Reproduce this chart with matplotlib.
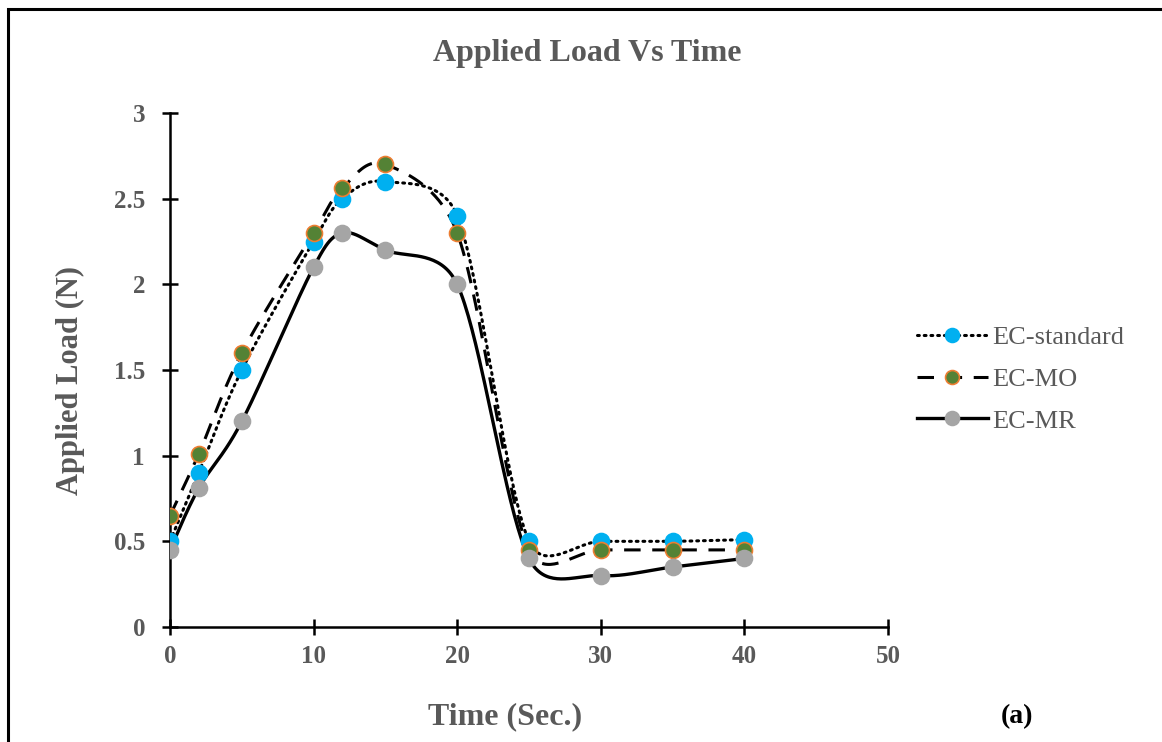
import numpy as np
import matplotlib
matplotlib.use("Agg")
import matplotlib.pyplot as plt
from matplotlib.lines import Line2D
from matplotlib.patches import Rectangle

time = [0, 2, 5, 10, 12, 15, 20, 25, 30, 35, 40]
ec_standard = [0.50, 0.90, 1.50, 2.25, 2.50, 2.60, 2.40, 0.50, 0.50, 0.50, 0.51]
ec_mo = [0.65, 1.01, 1.60, 2.30, 2.56, 2.70, 2.30, 0.45, 0.45, 0.45, 0.45]
ec_mr = [0.45, 0.81, 1.20, 2.10, 2.30, 2.20, 2.00, 0.40, 0.30, 0.35, 0.40]
series_names = ["EC-standard", "EC-MO", "EC-MR"]
x_ticks = [0, 10, 20, 30, 40, 50]
y_ticks = [0, 0.5, 1, 1.5, 2, 2.5, 3]
y_tick_labels = ["0", "0.5", "1", "1.5", "2", "2.5", "3"]

GRAY = "#595959"
SERIF = ["Liberation Serif", "DejaVu Serif"]


def smooth(ax, xs, ys, n=40):
    """Excel-like smoothed line (Bezier with clamped control points), in display space."""
    pts = ax.transData.transform(np.column_stack([xs, ys]).astype(float))
    m = len(pts)
    out = []
    for i in range(m - 1):
        p0 = pts[i - 1] if i > 0 else pts[i]
        p1 = pts[i]
        p2 = pts[i + 1]
        p3 = pts[i + 2] if i + 2 < m else pts[i + 1]
        d02 = np.hypot(*(p2 - p0))
        d12 = np.hypot(*(p2 - p1))
        d13 = np.hypot(*(p3 - p1))
        f1 = 1 / 6.0
        f2 = 1 / 6.0
        if d02 / 6.0 > d12 / 2.0 and d02 > 0:
            f1 = d12 / (2.0 * d02)
        if d13 / 6.0 > d12 / 2.0 and d13 > 0:
            f2 = d12 / (2.0 * d13)
        c1 = p1 + f1 * (p2 - p0)
        c2 = p2 - f2 * (p3 - p1)
        t = np.linspace(0, 1, n)[:, None]
        seg = ((1 - t) ** 3) * p1 + 3 * ((1 - t) ** 2) * t * c1 + 3 * (1 - t) * t ** 2 * c2 + t ** 3 * p2
        if i > 0:
            seg = seg[1:]
        out.append(seg)
    arr = ax.transData.inverted().transform(np.vstack(out))
    return arr[:, 0], arr[:, 1]


fig = plt.figure(figsize=(11.62, 7.42), dpi=100)
ax = fig.add_axes([170 / 1162, 1 - 627 / 742, (888 - 170) / 1162, (627 - 113) / 742])
ax.set_xlim(0, 50)
ax.set_ylim(0, 3)

styles = [
    dict(ls=(0, (0.6, 1.6)), lw=2.2, mfc="#00B0F0", mec="#00B0F0", cap="round"),
    dict(ls=(0, (5.4, 3.8)), lw=2.2, mfc="#548235", mec="#ED7D31", cap="butt"),
    dict(ls="-", lw=2.4, mfc="#A5A5A5", mec="#A5A5A5", cap="butt"),
]
data = [ec_standard, ec_mo, ec_mr]

handles = []
for name, ys, st in zip(series_names, data, styles):
    sx, sy = smooth(ax, time, ys)
    ax.plot(sx, sy, color="black", linestyle=st["ls"], lw=st["lw"],
            dash_capstyle=st["cap"], solid_capstyle="round", zorder=2)
    ax.plot(time, ys, linestyle="none", marker="o", ms=11.5, mfc=st["mfc"],
            mec=st["mec"], mew=1.2, zorder=3)
    handles.append(Line2D([0], [0], color="black", linestyle=st["ls"], lw=st["lw"],
                          dash_capstyle=st["cap"], marker="o", ms=10,
                          mfc=st["mfc"], mec=st["mec"], mew=1.2))

ax.set_xlim(0, 50)
ax.set_ylim(0, 3)
ax.set_xticks(x_ticks)
ax.set_yticks(y_ticks)
ax.set_yticklabels(y_tick_labels)
for s in ["top", "right"]:
    ax.spines[s].set_visible(False)
for s in ["left", "bottom"]:
    ax.spines[s].set_linewidth(1.8)
ax.tick_params(direction="inout", length=12, width=1.8)
ax.tick_params(axis="y", pad=12)
ax.tick_params(axis="x", pad=7)
for lab in ax.get_xticklabels() + ax.get_yticklabels():
    lab.set_fontfamily(SERIF)
    lab.set_fontweight("bold")
    lab.set_fontsize(18)
    lab.set_color(GRAY)

fig.text(505 / 1162, 1 - 717 / 742, "Time (Sec.)", ha="center", va="center",
         fontsize=23, fontweight="bold", color=GRAY, family=SERIF)
fig.text(70 / 1162, 1 - 380 / 742, "Applied Load (N)", ha="center", va="center",
         rotation=90, fontsize=22, fontweight="bold", color=GRAY, family=SERIF)

fig.text(587 / 1162, 1 - 53 / 742, "Applied Load Vs Time", ha="center", va="center",
         fontsize=23, fontweight="bold", color=GRAY, family=SERIF)
fig.text(1017 / 1162, 1 - 717 / 742, "(a)", ha="center", va="center",
         fontsize=20, fontweight="bold", color="black", family=SERIF)

leg = fig.legend(handles, series_names, loc="center left",
                 bbox_to_anchor=(893 / 1162, 1 - 379 / 742), frameon=False,
                 prop=dict(family=SERIF, size=19), labelcolor=GRAY,
                 handlelength=2.7, handletextpad=0.15, labelspacing=0.7)

fig.patches.append(Rectangle((8 / 1162, -0.05), 1.2, 1.05 - 9 / 742, transform=fig.transFigure,
                             fill=False, edgecolor="black", lw=2.2))

fig.savefig("out.png", dpi=100)
